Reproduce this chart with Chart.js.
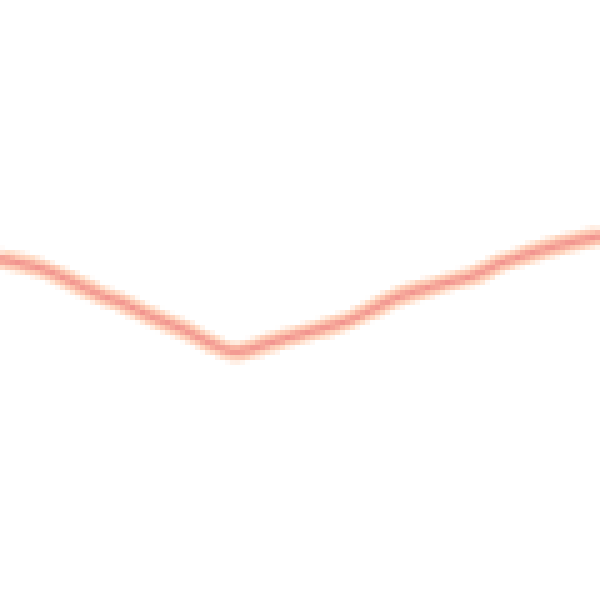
<!DOCTYPE html>
<html>
<head>
<meta charset="utf-8">
<script src="https://cdn.jsdelivr.net/npm/chart.js@4"></script>
<style>
  html, body { margin: 0; padding: 0; background: #fff; }
  #wrap { width: 600px; height: 600px; }
  canvas { image-rendering: pixelated; }
</style>
</head>
<body>
<div id="wrap"><canvas id="chart" width="600" height="600"></canvas></div>
<script>
// positions along the horizontal axis and the level at each one
const steps = [0, 40, 75, 100, 125, 150, 180, 210, 235, 260, 290, 320, 350, 375, 395, 420, 445, 470, 490, 500, 525, 560, 600];
const levels = [341, 332, 317, 305, 296, 284, 272, 257, 248, 254, 263, 271, 280, 292, 302, 310, 317, 323, 332, 337, 345, 355, 364];

const points = steps.map((s, i) => ({ x: s, y: levels[i] }));

document.addEventListener("DOMContentLoaded", function () {
  const ctx = document.getElementById("chart").getContext("2d");
  new Chart(ctx, {
    type: "line",
    data: {
      datasets: [
        {
          data: points,
          borderColor: "#f2948f",
          borderWidth: 5,
          pointRadius: 0,
          tension: 0.3,
        },
        {
          data: points,
          borderColor: "#fbb9a5",
          borderWidth: 12,
          pointRadius: 0,
          tension: 0.3,
        },
        {
          data: points,
          borderColor: "#ffdcc6",
          borderWidth: 20,
          pointRadius: 0,
          tension: 0.3,
        },
      ],
    },
    options: {
      responsive: false,
      animation: false,
      devicePixelRatio: 0.2,
      layout: { padding: 0 },
      plugins: {
        legend: { display: false },
        tooltip: { enabled: false },
      },
      scales: {
        x: { type: "linear", min: 0, max: 600, display: false },
        y: { min: 0, max: 600, display: false },
      },
    },
  });
});
</script>
</body>
</html>
